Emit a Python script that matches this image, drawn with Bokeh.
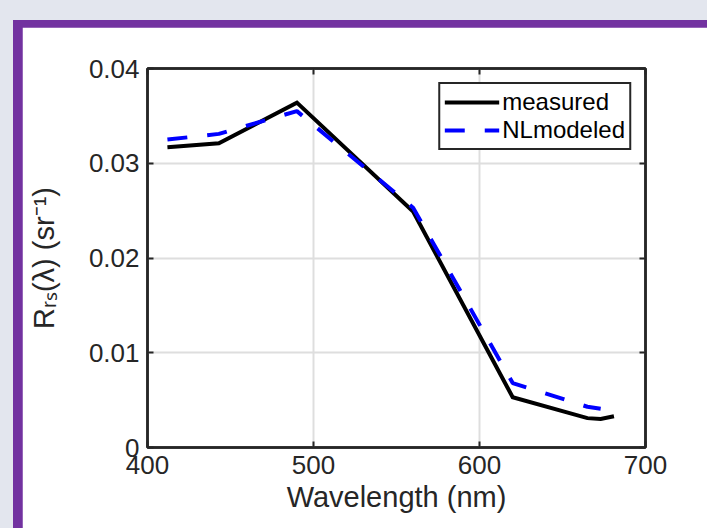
from bokeh.plotting import figure
from bokeh.layouts import column
from bokeh.models import LinearAxis, FixedTicker, Range1d
from bokeh.embed import file_html
from bokeh.resources import INLINE

# ---------------- data ----------------
wavelength_measured = [412, 443, 490, 560, 620, 665, 673, 681]
rrs_measured = [0.0317, 0.0321, 0.0364, 0.0249, 0.0053, 0.0031, 0.0030, 0.0033]
wavelength_modeled = [412, 443, 490, 560, 620, 665, 673]
rrs_modeled = [0.0325, 0.0331, 0.0355, 0.0253, 0.0068, 0.0043, 0.0041]
series_names = ["measured", "NLmodeled"]
x_ticks = [400, 500, 600, 700]
y_ticks = [0, 0.01, 0.02, 0.03, 0.04]
y_tick_labels = ["0", "0.01", "0.02", "0.03", "0.04"]
x_label = "Wavelength (nm)"
y_label = "R\u1d63\u209b(\u03bb) (sr\u207b\u00b9)"

# ---------------- geometry ----------------
W, H = 707, 528
CARD_L, CARD_T = 22, 27          # white card origin in the page
PURPLE_L, PURPLE_T = 13, 20      # purple frame origin
FL, FR, FT, FB = 147, 645, 68, 447  # plot frame in page px
FONT = "Liberation Sans"
DARK = "#262626"

cw, ch = W - CARD_L, H - CARD_T
p = figure(width=cw, height=ch, output_backend="svg", toolbar_location=None,
           x_range=Range1d(400, 700), y_range=Range1d(0, 0.04),
           min_border_left=FL - CARD_L, min_border_right=W - FR,
           min_border_top=FT - CARD_T, min_border_bottom=H - FB,
           background_fill_color="white", border_fill_color="white")

p.outline_line_color = DARK
p.outline_line_width = 2.5
p.outline_line_alpha = 1.0

# grid
p.xgrid.ticker = FixedTicker(ticks=x_ticks)
p.ygrid.ticker = FixedTicker(ticks=y_ticks)
for g in (p.xgrid, p.ygrid):
    g.grid_line_color = "#dedede"
    g.grid_line_width = 2

# axes
xa = p.xaxis[0]
ya = p.yaxis[0]
xa.ticker = FixedTicker(ticks=x_ticks)
ya.ticker = FixedTicker(ticks=y_ticks)
ya.major_label_overrides = {t: s for t, s in zip(y_ticks, y_tick_labels)}
xa.axis_label = x_label
ya.axis_label = y_label


def style_axis(ax):
    ax.axis_line_color = DARK
    ax.axis_line_width = 2.5
    ax.major_tick_in = 6
    ax.major_tick_out = 0
    ax.major_tick_line_color = DARK
    ax.major_tick_line_width = 2
    ax.minor_tick_line_color = None
    ax.major_label_text_font = FONT
    ax.major_label_text_font_size = "26px"
    ax.major_label_text_color = DARK
    ax.major_label_standoff = 8
    ax.axis_label_text_font = FONT
    ax.axis_label_text_font_size = "29px"
    ax.axis_label_text_font_style = "normal"
    ax.axis_label_text_color = DARK


for ax in (xa, ya):
    style_axis(ax)
xa.axis_label_standoff = 4
ya.axis_label_standoff = 26

# box ticks on top and right (no labels)
top_ax = LinearAxis(ticker=FixedTicker(ticks=x_ticks),
                    major_label_overrides={t: "" for t in x_ticks})
right_ax = LinearAxis(ticker=FixedTicker(ticks=y_ticks),
                      major_label_overrides={t: "" for t in y_ticks})
for ax in (top_ax, right_ax):
    style_axis(ax)
    ax.major_label_standoff = 0
p.add_layout(top_ax, "above")
p.add_layout(right_ax, "right")

# lines
p.line(wavelength_measured, rrs_measured, line_color="black", line_width=4,
       line_join="miter", legend_label=series_names[0])
p.line(wavelength_modeled, rrs_modeled, line_color="#0000ff", line_width=4,
       line_dash="20 20", legend_label=series_names[1])

lg = p.legend[0]
lg.location = "top_right"
lg.margin = 14
lg.padding = 4
lg.spacing = 0
lg.glyph_width = 55
lg.glyph_height = 26
lg.label_height = 26
lg.label_standoff = 3
lg.label_text_font = FONT
lg.label_text_font_size = "24px"
lg.label_text_color = "black"
lg.border_line_color = DARK
lg.border_line_width = 2.5
lg.border_line_alpha = 1.0
lg.background_fill_color = "white"
lg.background_fill_alpha = 1.0

# page: gray background, purple frame, white card
p.margin = (CARD_T - PURPLE_T, 0, 0, CARD_L - PURPLE_L)
purple = column(p, width=W - PURPLE_L, height=H - PURPLE_T,
                styles={"background-color": "#7232a0"})
purple.margin = (PURPLE_T, 0, 0, PURPLE_L)
page = column(purple, width=W, height=H,
              styles={"background-color": "#e3e6ee"})

open("out.html", "w").write(file_html(page, INLINE))
